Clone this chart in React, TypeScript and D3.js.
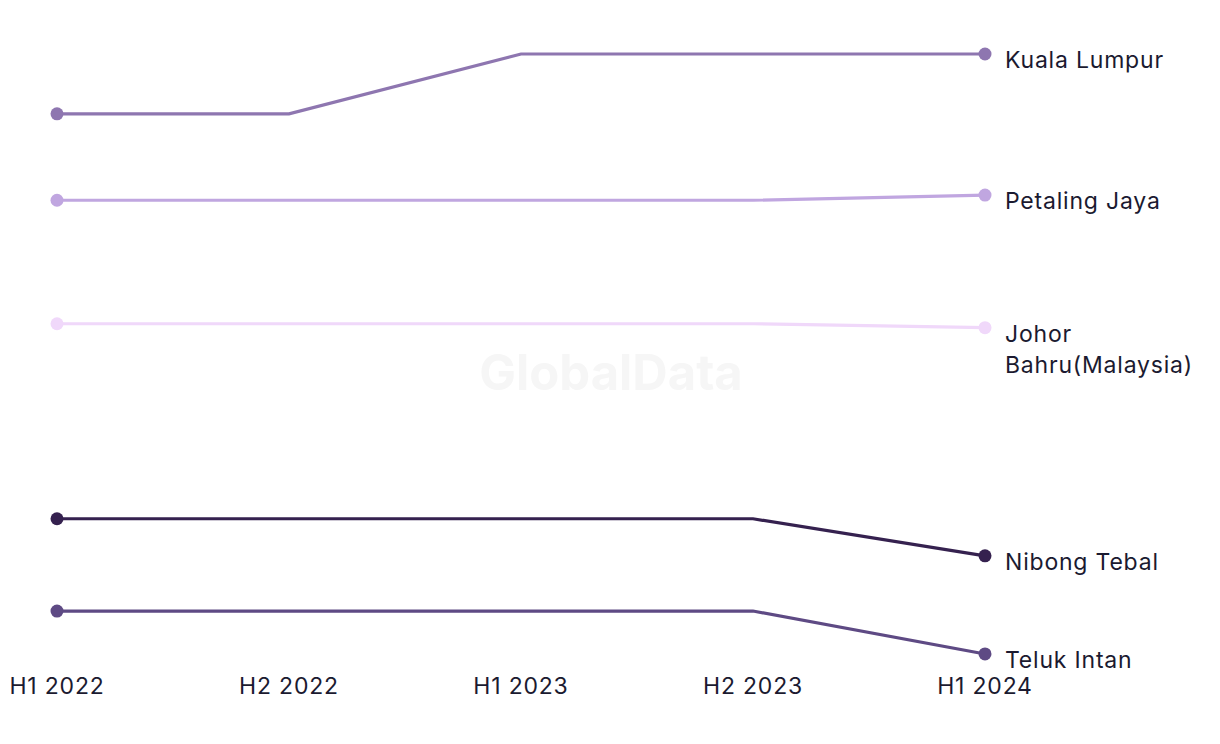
import React from "react";
import * as d3 from "d3";

const periods = ["H1 2022", "H2 2022", "H1 2023", "H2 2023", "H1 2024"];
const cities = ["Kuala Lumpur", "Petaling Jaya", "Johor Bahru(Malaysia)", "Nibong Tebal", "Teluk Intan"];
const labelLines = [["Kuala Lumpur"], ["Petaling Jaya"], ["Johor", "Bahru(Malaysia)"], ["Nibong Tebal"], ["Teluk Intan"]];
const kualaLumpur = [90.8, 90.8, 100.0, 100.0, 100.0];
const petalingJaya = [77.5, 77.5, 77.5, 77.5, 78.3];
const johorBahru = [58.5, 58.5, 58.5, 58.5, 57.9];
const nibongTebal = [28.5, 28.5, 28.5, 28.5, 22.8];
const telukIntan = [14.3, 14.3, 14.3, 14.3, 7.7];
const seriesValues = [kualaLumpur, petalingJaya, johorBahru, nibongTebal, telukIntan];
const colors = ["#8e76b0", "#c0a6e0", "#f0d8fa", "#35214f", "#5e4a84"];

const W = 1220;
const H = 744;
const FONT = "Inter, 'Open Sans', sans-serif";

export default function App() {
  const x = d3.scalePoint<string>().domain(periods).range([57, 985]);
  const y = d3.scaleLinear().domain([0, 100]).range([704, 54]);
  const line = d3
    .line<number>()
    .x((_, i) => x(periods[i]) as number)
    .y((d) => y(d));

  return (
    <svg width={W} height={H} style={{ position: "absolute", left: 0, top: 0 }}>
      <rect width={W} height={H} fill="#ffffff" />
      <text
        x={611}
        y={390}
        textAnchor="middle"
        fontFamily={FONT}
        fontWeight={700}
        fontSize={49}
        fill="#f6f6f6"
      >
        GlobalData
      </text>
      {seriesValues.map((vals, si) => {
        const lastY = y(vals[vals.length - 1]);
        const lines = labelLines[si];
        return (
          <g key={cities[si]}>
            <path d={line(vals) || ""} fill="none" stroke={colors[si]} strokeWidth={3.2} />
            <circle cx={x(periods[0])} cy={y(vals[0])} r={6.5} fill={colors[si]} />
            <circle cx={x(periods[periods.length - 1])} cy={lastY} r={6.5} fill={colors[si]} />
            <text x={1005} y={lastY + 14} fontFamily={FONT} fontSize={23} letterSpacing={0.8} fill="#1b1a30">
              {lines.map((l, li) => (
                <tspan key={li} x={1005} dy={li === 0 ? 0 : 31}>
                  {l}
                </tspan>
              ))}
            </text>
          </g>
        );
      })}
      {periods.map((p) => (
        <text
          key={p}
          x={x(p)}
          y={694}
          textAnchor="middle"
          fontFamily={FONT}
          fontSize={23}
          letterSpacing={0.8}
          fill="#1b1a30"
        >
          {p}
        </text>
      ))}
    </svg>
  );
}
